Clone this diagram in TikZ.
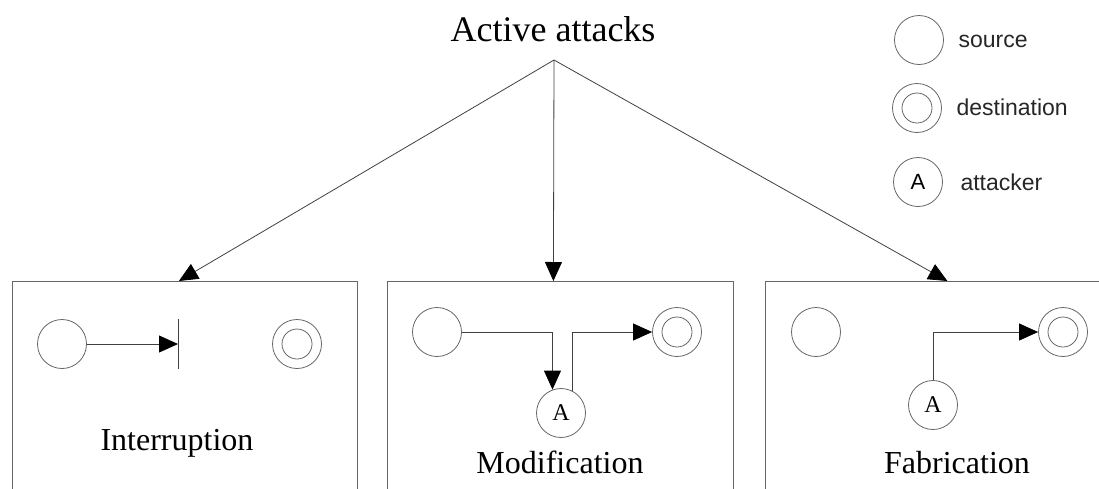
\documentclass[tikz,border=0pt]{standalone}
\usepackage{fontspec}
\setmainfont{Liberation Serif}
\newfontfamily\legendfont{Liberation Sans}
\usetikzlibrary{arrows.meta}

\tikzset{
  ln/.style={draw=black!75, line width=0.8pt},
  tri/.style={-{Triangle[length=19pt,width=17pt,color=black]}},
  panel/.style={draw=black!60, line width=0.8pt, rectangle, anchor=north west,
    inner sep=0pt, minimum height=240pt},
  src/.style={circle, draw=black!60, line width=0.8pt, minimum size=49pt, inner sep=0pt},
  dst/.style={src, path picture={\draw[black!60, line width=0.8pt]
    (path picture bounding box.center) circle[radius=15pt];}},
  atk/.style={src, font=\fontsize{24}{24}\selectfont},
  lbl/.style={anchor=base, font=\fontsize{32}{36}\selectfont},
  legtext/.style={anchor=base west, text=black!85, font=\legendfont\fontsize{23}{26}\selectfont},
}

\begin{document}
\begin{tikzpicture}[x=1pt, y=-1pt]
  \useasboundingbox (0,0) rectangle (1099,488);
  \clip (0,0) rectangle (1099,488);

  % title and the point the three branches leave from
  \node[anchor=base, font=\fontsize{36}{40}\selectfont] (title) at (553,41) {Active attacks};
  \coordinate (apex) at (554,60);

  % the three panels
  \node[panel, minimum width=345pt] (b1) at (12,281) {};
  \node[panel, minimum width=346pt] (b2) at (387,281) {};
  \node[panel, minimum width=360pt] (b3) at (765,281) {};

  \draw[ln, tri] (apex) -- ([xshift=-6pt]b1.north);
  \draw[ln, tri] (apex) -- ([xshift=-7pt]b2.north);
  \draw[ln, tri] (apex) -- ([xshift=2pt]b3.north);

  % Interruption
  \node[src] (s1) at (62,344) {};
  \node[dst] (d1) at (297,344) {};
  \coordinate (cut) at (178,344);
  \draw[ln, tri] (s1) -- (cut);
  \draw[ln] ([yshift=25pt]cut) -- ([yshift=-25pt]cut);
  \node[lbl] (t1) at (177,450) {Interruption};

  % Modification
  \node[src] (ms) at (437,332) {};
  \node[atk] (ma) at (561,413) {A};
  \node[dst] (md) at (677,332) {};
  \draw[ln, tri] (ms.east) -| (ma.110);
  \draw[ln, tri] (ma.63) |- (md.west);
  \node[lbl] (t2) at (560,473) {Modification};

  % Fabrication
  \node[src] (fs) at (816,332) {};
  \node[atk] (fa) at (933,405) {A};
  \node[dst] (fd) at (1063,332) {};
  \draw[ln, tri] (fa.north) |- (fd.west);
  \node[lbl] (t3) at (957,473) {Fabrication};

  % legend
  \node[src] (lsrc) at (919,40) {};
  \node[dst] (ldst) at (917,108) {};
  \node[src, font=\legendfont\fontsize{22}{22}\selectfont] (latk) at (918,182) {A};
  \node[legtext] (lt1) at (955,47) {source};
  \node[legtext] (lt2) at (953,115) {destination};
  \node[legtext] (lt3) at (957,190) {attacker};
\end{tikzpicture}
\end{document}
